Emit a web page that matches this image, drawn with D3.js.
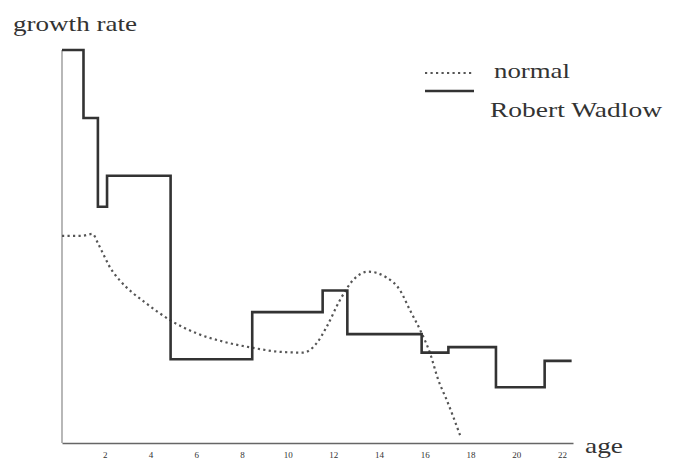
<!DOCTYPE html>
<html>
<head>
<meta charset="utf-8">
<script src="https://cdn.jsdelivr.net/npm/d3@7"></script>
<style>
  body { margin: 0; background: #fff; }
  text { font-family: "Liberation Serif", "DejaVu Serif", serif; fill: #333; }
</style>
</head>
<body>
<script>
// Robert Wadlow: step edges (age) and growth rate in each interval
var wadlowAges  = [0, 0.94, 1.57, 1.97, 4.75, 8.32, 11.40, 12.48, 15.73, 16.90, 18.98, 21.11, 22.29];
var wadlowRates = [100, 82.7, 60.1, 68.0, 21.3, 33.3, 38.8, 27.7, 23.0, 24.4, 14.2, 20.9];

// normal growth curve
var normalAges  = [0, 0.86, 1.33, 1.59, 1.81, 2.05, 2.54, 3.05, 3.6, 4.72, 5.89, 7.05, 8.37, 9.53,
                   10.55, 11.14, 11.58, 12.16, 12.74, 13.40, 14.17, 14.78, 15.22, 15.66, 16.10, 16.46, 16.83, 17.41];
var normalRates = [52.7, 52.7, 53.2, 50.6, 48.0, 45.2, 41.3, 38.4, 35.9, 31.3, 27.9, 25.8, 24.2, 23.2,
                   23.0, 25.4, 29.6, 36.4, 41.5, 43.6, 42.2, 38.9, 33.8, 28.8, 22.8, 16.0, 10.9, 2.0];

var tickAges = [2, 4, 6, 8, 10, 12, 14, 16, 18, 20, 22];
var legendLabels = ["normal", "Robert Wadlow"];

var width = 674, height = 461;

var svg = d3.select("body").append("svg")
    .attr("width", width)
    .attr("height", height);

// scales
var x = d3.scaleLinear().domain([0, 22.35]).range([62, 573]),
    y = d3.scaleLinear().domain([0, 100]).range([443, 50]);

// x axis, no tick marks
var xAxis = d3.axisBottom(x)
    .tickValues(tickAges)
    .tickSize(0)
    .tickPadding(9)
    .tickFormat(d3.format("d"));

var gx = svg.append("g")
    .attr("transform", "translate(0," + y(0) + ")")
    .call(xAxis);
gx.select(".domain").attr("stroke", "#666").attr("stroke-width", 1.6);
gx.selectAll(".tick text")
    .attr("dx", -3)
    .style("font-size", "9px")
    .style("font-family", "Liberation Serif, serif")
    .attr("fill", "#444");

// y axis line only
svg.append("line")
    .attr("x1", x(0)).attr("x2", x(0))
    .attr("y1", y(0)).attr("y2", y(100))
    .attr("stroke", "#888")
    .attr("stroke-width", 1.2);

// axis titles
svg.append("text")
    .attr("x", 13).attr("y", 31)
    .attr("textLength", 124).attr("lengthAdjust", "spacingAndGlyphs")
    .style("font-size", "22px")
    .text("growth rate");

svg.append("text")
    .attr("x", 585).attr("y", 453)
    .attr("textLength", 38).attr("lengthAdjust", "spacingAndGlyphs")
    .style("font-size", "22px")
    .text("age");

// normal curve (dotted)
var normalData = normalAges.map(function(a, i) { return {age: a, rate: normalRates[i]}; });
var normalLine = d3.line()
    .x(function(d) { return x(d.age); })
    .y(function(d) { return y(d.rate); })
    .curve(d3.curveMonotoneX);

svg.append("path")
    .datum(normalData)
    .attr("fill", "none")
    .attr("stroke", "#555")
    .attr("stroke-width", 2.2)
    .attr("stroke-dasharray", "2.2,3.3")
    .attr("d", normalLine);

// Wadlow step line
var wadlowData = wadlowAges.map(function(a, i) {
  return {age: a, rate: i < wadlowRates.length ? wadlowRates[i] : wadlowRates[wadlowRates.length - 1]};
});
var stepLine = d3.line()
    .x(function(d) { return x(d.age); })
    .y(function(d) { return y(d.rate); })
    .curve(d3.curveStepAfter);

svg.append("path")
    .datum(wadlowData)
    .attr("fill", "none")
    .attr("stroke", "#333")
    .attr("stroke-width", 2.6)
    .attr("d", stepLine);

// legend
var legend = svg.append("g").attr("transform", "translate(425,73)");
legend.append("line")
    .attr("x1", 0).attr("x2", 49).attr("y1", 0).attr("y2", 0)
    .attr("stroke", "#555").attr("stroke-width", 2.2).attr("stroke-dasharray", "2.2,3.3");
legend.append("line")
    .attr("x1", 0).attr("x2", 49).attr("y1", 18).attr("y2", 18)
    .attr("stroke", "#333").attr("stroke-width", 2.6);
legend.append("text")
    .attr("x", 69).attr("y", 5)
    .attr("textLength", 76).attr("lengthAdjust", "spacingAndGlyphs")
    .style("font-size", "22px")
    .text(legendLabels[0]);
legend.append("text")
    .attr("x", 65).attr("y", 44)
    .attr("textLength", 172).attr("lengthAdjust", "spacingAndGlyphs")
    .style("font-size", "22px")
    .text(legendLabels[1]);
</script>
</body>
</html>
